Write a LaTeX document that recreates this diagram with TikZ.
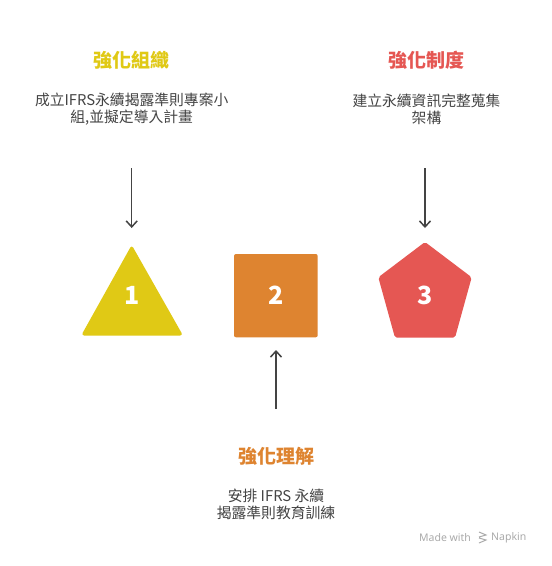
\documentclass[tikz,border=0pt]{standalone}
\usepackage{fontspec}
\setmainfont{Noto Sans CJK TC}
\newfontfamily\wmfont{Noto Sans}
\definecolor{cyel}{HTML}{E0C915}
\definecolor{cora}{HTML}{DE8430}
\definecolor{cred}{HTML}{E55753}
\definecolor{ctxt}{HTML}{444444}
\definecolor{cwm}{HTML}{AAAAAA}
\tikzset{
  title/.style={font=\fontsize{19}{22}\selectfont\bfseries, inner sep=0pt, anchor=center},
  desc/.style={font=\fontsize{14.8}{17}\selectfont, text=ctxt, align=center, inner sep=0pt},
  num/.style={font=\fontsize{25}{28}\selectfont\bfseries, text=white, inner sep=0pt},
  arr/.style={draw=ctxt, line width=1.5pt, -{Straight Barb[length=6pt,width=11pt]}},
}
\usetikzlibrary{arrows.meta}
\begin{document}
\begin{tikzpicture}[x=1pt,y=-1pt]
\useasboundingbox[fill=white] (0,0) rectangle (552,566);
% titles
\node[title, text=cyel] (t1) at (131.7,60) {強化組織};
\node[title, text=cred] (t3) at (426,60) {強化制度};
\node[title, text=cora] (t2) at (276,456) {強化理解};
% descriptions
\node[desc] (d1) at (131.7,109) {成立IFRS永續揭露準則專案小\\組,並擬定導入計畫};
\node[desc] (d3) at (426.5,109) {建立永續資訊完整蒐集\\架構};
\node[desc] (d2) at (276,504.5) {安排 IFRS 永續\\揭露準則教育訓練};
% shapes
\fill[cyel, rounded corners=3pt] (131.7,245) -- (183,335.5) -- (81.2,335.5) -- cycle;
\fill[cora, rounded corners=2pt] (234,254) rectangle (317.7,337.3);
\fill[cred, rounded corners=2pt] (425,242) -- (471.7,277.3) -- (455,337.7) -- (395,337.7) -- (378.3,277.3) -- cycle;
\node[num] (n1) at (131.7,295) {1};
\node[num] (n2) at (276,295) {2};
\node[num] (n3) at (425,295) {3};
% arrows
\coordinate (a1s) at (131.7,168);
\coordinate (a1e) at (131.7,228);
\coordinate (a3s) at (425,168);
\coordinate (a3e) at (425,228);
\coordinate (a2s) at (276,409);
\coordinate (a2e) at (276,350);
\draw[arr] (a1s) -- (a1e);
\draw[arr] (a3s) -- (a3e);
\draw[arr] (a2s) -- (a2e);
% watermark
\node[font=\wmfont\fontsize{10.5}{12}\selectfont, text=cwm, anchor=west, inner sep=0pt] (wm1) at (419,537.5) {Made with};
\node[font=\wmfont\fontsize{10.5}{12}\selectfont, text=cwm, anchor=west, inner sep=0pt] (wm2) at (491,537.5) {Napkin};
\draw[cwm, line width=1pt] (479,532) -- (486,535) -- (479,537) (479,538) -- (486,540) -- (479,543);
\end{tikzpicture}
\end{document}
